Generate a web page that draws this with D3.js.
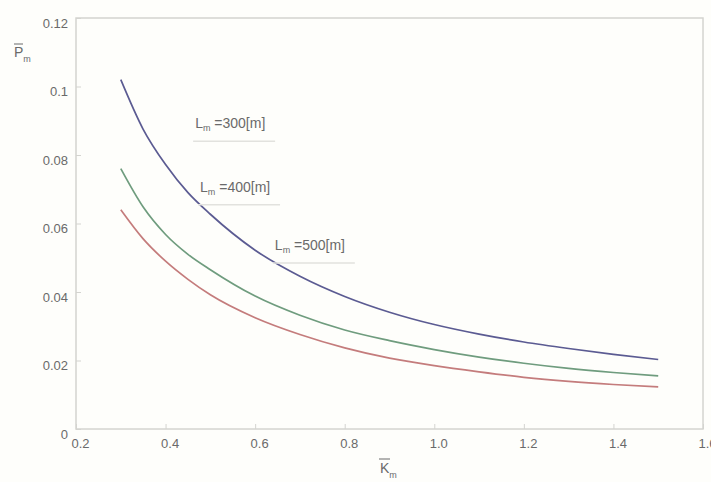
<!DOCTYPE html>
<html>
<head>
<meta charset="utf-8">
<script src="https://cdn.jsdelivr.net/npm/d3@7"></script>
<style>
  body { margin: 0; background: #fefefb; }
  text { font-family: "Liberation Sans", Arial, sans-serif; }
</style>
</head>
<body>
<div id="chart"></div>
<script>
// K values along the x axis
var kValues = [0.3, 0.35, 0.4, 0.45, 0.5, 0.6, 0.7, 0.8, 0.9, 1.0, 1.1, 1.2, 1.3, 1.4, 1.5];

// P values, one list per curve
var pBlue  = [0.102, 0.0875, 0.0772, 0.069, 0.0627, 0.0522, 0.0446, 0.0387, 0.0341, 0.0305, 0.0277, 0.0254, 0.0235, 0.0218, 0.0203];
var pGreen = [0.076, 0.0648, 0.0568, 0.051, 0.0465, 0.0388, 0.0332, 0.0289, 0.0258, 0.0232, 0.021, 0.0192, 0.0177, 0.0165, 0.0155];
var pRed   = [0.064, 0.0555, 0.049, 0.0437, 0.0392, 0.0325, 0.0276, 0.0237, 0.0207, 0.0185, 0.0167, 0.0151, 0.0139, 0.013, 0.0123];

var seriesColors = ['#5b5b92', '#6f9c7e', '#c47c7c'];

var labelValues = ['300', '400', '500'];
var labelK = [0.466, 0.477, 0.644];
var labelP = [0.0893, 0.0707, 0.0537];

var xTicks = [0.2, 0.4, 0.6, 0.8, 1.0, 1.2, 1.4, 1.6];
var xTickLabels = ['0.2', '0.4', '0.6', '0.8', '1.0', '1.2', '1.4', '1.6'];
var yTicks = [0, 0.02, 0.04, 0.06, 0.08, 0.1, 0.12];
var yTickLabels = ['0', '0.02', '0.04', '0.06', '0.08', '0.1', '0.12'];

var width = 711, height = 482;
var margin = {top: 18, right: 8, bottom: 53, left: 76};

var svg = d3.select('#chart').append('svg')
  .attr('width', width)
  .attr('height', height)
  .style('background-color', '#fefefb');

var x = d3.scaleLinear().domain([0.2, 1.6]).range([margin.left, width - margin.right]);
var y = d3.scaleLinear().domain([0, 0.12]).range([height - margin.bottom, margin.top]);

var frame_color = '#d4d4d0',
  text_color = '#6a6a6a';

// frame
svg.append('rect')
  .attr('x', margin.left)
  .attr('y', margin.top)
  .attr('width', width - margin.left - margin.right)
  .attr('height', height - margin.top - margin.bottom)
  .attr('fill', 'none')
  .attr('stroke', frame_color)
  .attr('stroke-width', 1.5);

// axes
var xAxis = svg.append('g')
  .attr('transform', 'translate(0,' + (height - margin.bottom) + ')')
  .call(d3.axisBottom(x).tickValues(xTicks)
    .tickFormat(function(d, i) { return xTickLabels[i]; })
    .tickSizeInner(-5).tickSizeOuter(0).tickPadding(10));

var yAxis = svg.append('g')
  .attr('transform', 'translate(' + margin.left + ',0)')
  .call(d3.axisLeft(y).tickValues(yTicks)
    .tickFormat(function(d, i) { return yTickLabels[i]; })
    .tickSizeInner(-5).tickSizeOuter(0).tickPadding(8));

[xAxis, yAxis].forEach(function(g) {
  g.select('.domain').remove();
  g.selectAll('.tick line').attr('stroke', frame_color);
  g.selectAll('.tick text')
    .attr('fill', text_color)
    .style('font-size', '13px');
});
xAxis.selectAll('.tick text').attr('dx', 4);
yAxis.selectAll('.tick text').attr('dy', '0.7em');

// curves
var line = d3.line()
  .x(function(d) { return x(d[0]); })
  .y(function(d) { return y(d[1]); })
  .curve(d3.curveMonotoneX);

[pBlue, pGreen, pRed].forEach(function(vals, i) {
  svg.append('path')
    .datum(kValues.map(function(k, j) { return [k, vals[j]]; }))
    .attr('fill', 'none')
    .attr('stroke', seriesColors[i])
    .attr('stroke-width', 1.7)
    .attr('d', line);
});

// labels
labelValues.forEach(function(v, i) {
  var lx = x(labelK[i]), ly = y(labelP[i]);
  var t = svg.append('text')
    .attr('x', lx)
    .attr('y', ly + 5)
    .attr('fill', text_color)
    .style('font-size', '14px');
  t.append('tspan').text('L');
  t.append('tspan').attr('dy', 3).style('font-size', '9px').text('m');
  t.append('tspan').attr('dy', -3).text(' =' + v + '[m]');
  svg.append('line')
    .attr('x1', lx - 2).attr('x2', lx + 80)
    .attr('y1', ly + 18).attr('y2', ly + 18)
    .attr('stroke', '#e2e2de')
    .attr('stroke-width', 1.5);
});

// axis titles
var yt = svg.append('text')
  .attr('x', 14).attr('y', 57)
  .attr('fill', text_color)
  .style('font-size', '14px');
yt.append('tspan').text('P');
yt.append('tspan').attr('dy', 5).style('font-size', '9px').text('m');
svg.append('line')
  .attr('x1', 14).attr('x2', 23).attr('y1', 44).attr('y2', 44)
  .attr('stroke', text_color).attr('stroke-width', 1);

var xt = svg.append('text')
  .attr('x', 380).attr('y', 473)
  .attr('fill', text_color)
  .style('font-size', '14px');
xt.append('tspan').text('K');
xt.append('tspan').attr('dy', 5).style('font-size', '9px').text('m');
svg.append('line')
  .attr('x1', 379).attr('x2', 390).attr('y1', 459).attr('y2', 459)
  .attr('stroke', text_color).attr('stroke-width', 1);
</script>
</body>
</html>
